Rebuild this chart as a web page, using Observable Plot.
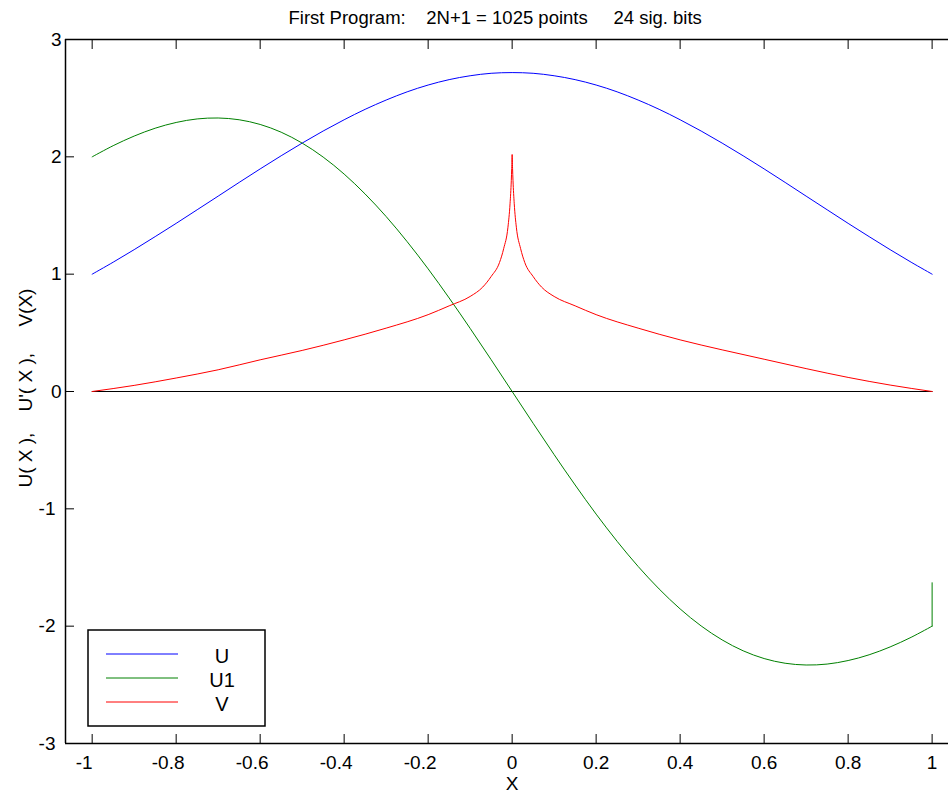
<!DOCTYPE html>
<html><head><meta charset="utf-8">
<script src="https://cdn.jsdelivr.net/npm/d3@7"></script>
<script src="https://cdn.jsdelivr.net/npm/@observablehq/plot@0.6"></script>
<style>
html,body{margin:0;padding:0;background:#fff;}
#chart{position:relative;width:948px;height:792px;overflow:hidden;}
svg text{white-space:pre;}
</style></head><body><div id="chart"></div>
<script>
// ---- texts ----
const titleText = "First Program:    2N+1 = 1025 points     24 sig. bits";
const xLabel = "X";
const yLabel = "U( X ),    U'( X ),     V(X)";

// ---- ticks ----
const xTicks = [-1, -0.8, -0.6, -0.4, -0.2, 0, 0.2, 0.4, 0.6, 0.8, 1];
const xTickLabels = ["-1", "-0.8", "-0.6", "-0.4", "-0.2", "0", "0.2", "0.4", "0.6", "0.8", "1"];
const yTicks = [-3, -2, -1, 0, 1, 2, 3];
const yTickLabels = ["-3", "-2", "-1", "0", "1", "2", "3"];

// ---- series ----
const seriesNames = ["U", "U1", "V"];
const seriesColors = ["#0000ff", "#008000", "#ff0000"];

const uX = [-1,-0.95,-0.9,-0.85,-0.8,-0.75,-0.7,-0.65,-0.6,-0.55,-0.5,-0.45,-0.4,-0.35,-0.3,-0.25,-0.2,-0.15,-0.1,-0.05,0,0.05,0.1,0.15,0.2,0.25,0.3,0.35,0.4,0.45,0.5,0.55,0.6,0.65,0.7,0.75,0.8,0.85,0.9,0.95,1];
const uY = [1,1.102,1.209,1.320,1.433,1.549,1.665,1.782,1.897,2.009,2.117,2.220,2.316,2.405,2.484,2.554,2.612,2.658,2.691,2.712,2.718,2.712,2.691,2.658,2.612,2.554,2.484,2.405,2.316,2.220,2.117,2.009,1.897,1.782,1.665,1.549,1.433,1.320,1.209,1.102,1];

const u1X = [-1,-0.95,-0.9,-0.85,-0.8,-0.75,-0.7,-0.65,-0.6,-0.55,-0.5,-0.45,-0.4,-0.35,-0.3,-0.25,-0.2,-0.15,-0.1,-0.05,0,0.05,0.1,0.15,0.2,0.25,0.3,0.35,0.4,0.45,0.5,0.55,0.6,0.65,0.7,0.75,0.8,0.85,0.9,0.95,1,1];
const u1Y = [2.000,2.095,2.177,2.244,2.293,2.323,2.331,2.316,2.276,2.210,2.117,1.998,1.853,1.683,1.491,1.277,1.045,0.797,0.538,0.271,0,-0.271,-0.538,-0.797,-1.045,-1.277,-1.491,-1.683,-1.853,-1.998,-2.117,-2.210,-2.276,-2.316,-2.331,-2.323,-2.293,-2.244,-2.177,-2.095,-2.000,-1.63];

const vX = [-1,-0.9,-0.8,-0.7,-0.6,-0.5,-0.4,-0.3,-0.2,-0.15,-0.1,-0.07,-0.05,-0.03,-0.02,-0.01,-0.005,-0.002,-0.001,0,0.001,0.002,0.005,0.01,0.02,0.03,0.05,0.07,0.1,0.15,0.2,0.3,0.4,0.5,0.6,0.7,0.8,0.9,1];
const vY = [0,0.052,0.115,0.185,0.27,0.35,0.44,0.54,0.655,0.73,0.81,0.89,0.98,1.10,1.22,1.40,1.60,1.80,1.90,2.02,1.90,1.80,1.60,1.40,1.22,1.10,0.98,0.89,0.81,0.73,0.655,0.54,0.44,0.355,0.275,0.195,0.12,0.055,0];

const zeroX = [-1, 1];
const zeroY = [0, 0];

// ---- layout ----
const W = 948, H = 792, mL = 65, mT = 39, mB = 49;
const xDomain = [-1.0635, 1.039];
const yDomain = [-3, 3];
const tickLen = 9;
const font = "'Liberation Sans', Arial, Helvetica, sans-serif";

const toRows = (xs, ys) => xs.map((x, i) => ({x, y: ys[i]}));
const uRows = toRows(uX, uY);
const u1Rows = toRows(u1X, u1Y);
const u1Smooth = u1Rows.slice(0, u1Rows.length - 1);   // smooth part of U1
const u1Jump = u1Rows.slice(u1Rows.length - 2);        // final vertical jump at X = 1
const vRows = toRows(vX, vY);
const zeroRows = toRows(zeroX, zeroY);

const xt = xTicks.map((v, i) => ({v, t: xTickLabels[i]}));
const yt = yTicks.map((v, i) => ({v, t: yTickLabels[i]}));

const plot = Plot.plot({
  width: W, height: H,
  marginLeft: mL, marginRight: 0, marginTop: mT, marginBottom: mB,
  style: {fontFamily: font, fontSize: "19px", color: "#000", background: "#fff", overflow: "visible"},
  x: {domain: xDomain},
  y: {domain: yDomain},
  marks: [
    Plot.line(zeroRows, {x: "x", y: "y", stroke: "#000", strokeWidth: 1}),
    Plot.line(uRows, {x: "x", y: "y", stroke: seriesColors[0], strokeWidth: 1, curve: "catmull-rom"}),
    Plot.line(u1Smooth, {x: "x", y: "y", stroke: seriesColors[1], strokeWidth: 1, curve: "catmull-rom"}),
    Plot.line(u1Jump, {x: "x", y: "y", stroke: seriesColors[1], strokeWidth: 1}),
    Plot.line(vRows, {x: "x", y: "y", stroke: seriesColors[2], strokeWidth: 1, curve: "monotone-x"}),
    Plot.ruleY([yDomain[1], yDomain[0]], {stroke: "#000", strokeWidth: 1.5}),
    Plot.ruleX([xDomain[0]], {stroke: "#000", strokeWidth: 1.5}),
    Plot.axisX(xTicks, {anchor: "bottom", tickSize: -tickLen, tickFormat: () => "", label: null}),
    Plot.axisX(xTicks, {anchor: "top", tickSize: -tickLen, tickFormat: () => "", label: null}),
    Plot.axisY(yTicks, {anchor: "left", tickSize: -tickLen, tickFormat: () => "", label: null}),
    Plot.text(xt.filter(d => d.v < 0), {x: "v", text: "t", frameAnchor: "bottom", lineAnchor: "bottom", dy: 25, dx: -8, fontSize: 19}),
    Plot.text(xt.filter(d => d.v >= 0), {x: "v", text: "t", frameAnchor: "bottom", lineAnchor: "bottom", dy: 25, fontSize: 19}),
    Plot.text(yt.filter(d => d.v < 0), {y: "v", text: "t", frameAnchor: "left", textAnchor: "end", lineAnchor: "middle", dx: -10, fontSize: 19}),
    Plot.text(yt.filter(d => d.v >= 0), {y: "v", text: "t", frameAnchor: "left", textAnchor: "end", lineAnchor: "middle", dx: -4, fontSize: 19}),
    Plot.text([titleText], {frameAnchor: "top-left", textAnchor: "start", lineAnchor: "bottom", dx: 223, dy: -16, fontSize: 18.5}),
    Plot.text([xLabel], {x: (xTicks[0] + xTicks[xTicks.length - 1]) / 2, frameAnchor: "bottom", lineAnchor: "bottom", dy: 46, fontSize: 19}),
    Plot.text([yLabel], {frameAnchor: "left", rotate: -90, textAnchor: "start", lineAnchor: "bottom", dx: -34, dy: 96, fontSize: 19})
  ]
});

// ---- legend (drawn inside the plot area, lower-left) ----
const lg = {x: 88, y: 630, w: 177, h: 96, lx1: 106, lx2: 178, ly0: 654, step: 24, tx: 222};
const svg = d3.select(plot);
const g = svg.append("g").attr("class", "legend");
g.append("rect").attr("x", lg.x).attr("y", lg.y).attr("width", lg.w).attr("height", lg.h)
  .attr("fill", "#fff").attr("stroke", "#000").attr("stroke-width", 1.5);
seriesNames.forEach((name, i) => {
  const y = lg.ly0 + i * lg.step;
  g.append("line").attr("x1", lg.lx1).attr("x2", lg.lx2).attr("y1", y).attr("y2", y)
    .attr("stroke", seriesColors[i]).attr("stroke-width", 1);
  g.append("text").attr("x", lg.tx).attr("y", y + 8.5).text(name)
    .attr("font-family", font).attr("font-size", 20).attr("fill", "#000");
});

document.getElementById("chart").appendChild(plot);
</script>
</body></html>
